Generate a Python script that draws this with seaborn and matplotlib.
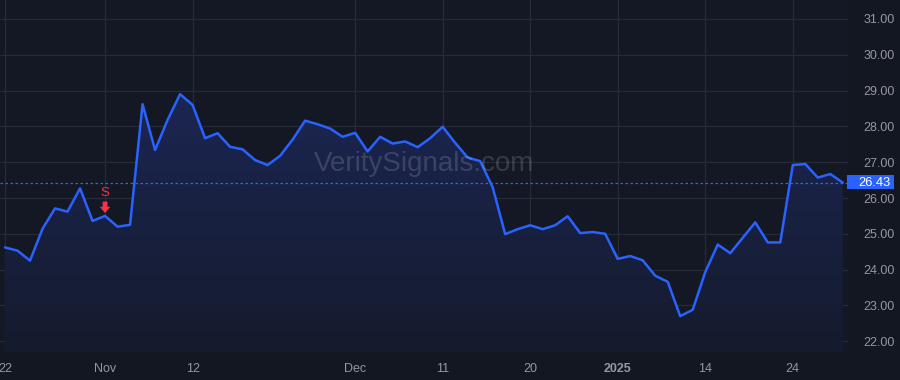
import numpy as np
import pandas as pd
import matplotlib
matplotlib.use("Agg")
import matplotlib.pyplot as plt
import seaborn as sns
from matplotlib.patches import Polygon, Rectangle
from matplotlib.colors import LinearSegmentedColormap

# ---- data ----
values = [24.62, 24.53, 24.25, 25.14, 25.71, 25.62, 26.27, 25.36, 25.50, 25.20,
          25.25, 28.62, 27.34, 28.18, 28.90, 28.60, 27.67, 27.81, 27.43, 27.36,
          27.06, 26.92, 27.18, 27.63, 28.16, 28.06, 27.94, 27.71, 27.82, 27.30,
          27.71, 27.52, 27.58, 27.42, 27.67, 27.99, 27.54, 27.13, 27.03, 26.30,
          24.99, 25.13, 25.24, 25.13, 25.24, 25.49, 25.02, 25.05, 25.00, 24.30,
          24.38, 24.26, 23.83, 23.66, 22.70, 22.88, 23.93, 24.70, 24.46, 24.89,
          25.32, 24.76, 24.76, 26.92, 26.95, 26.57, 26.67, 26.43]
tick_index = [0, 8, 15, 28, 35, 42, 49, 56, 63]
tick_labels = ["22", "Nov", "12", "Dec", "11", "20", "2025", "14", "24"]
y_ticks = [22, 23, 24, 25, 26, 27, 28, 29, 30, 31]
last_price = 26.43
signal_index = 8
signal_label = "S"
watermark = "VeritySignals.com"

df = pd.DataFrame({"idx": np.arange(len(values)), "price": values})

BG = "#131722"
PANEL = "#141824"
GRID = "#262b38"
LINE = "#2962ff"
TXT = "#9598a1"
RED = "#f23645"

sns.set_theme(style="dark")
plt.rcParams["font.family"] = ["Liberation Sans", "DejaVu Sans"]

W, H = 900, 380
fig = plt.figure(figsize=(9, 3.8), dpi=100, facecolor=BG)
ax = fig.add_axes([0.0, 0.0737, 0.942, 0.9263])
ax.set_facecolor(PANEL)

ymin, ymax = 21.70, 31.53
xmin, xmax = -0.4, 67.4
ax.set_xlim(xmin, xmax)
ax.set_ylim(ymin, ymax)

# grid
for t in y_ticks:
    ax.axhline(t, color=GRID, lw=0.9, zorder=0)
for t in tick_index:
    ax.axvline(t, color=GRID, lw=0.9, zorder=0)

# gradient fill under line
x = df["idx"].to_numpy()
y = df["price"].to_numpy()
verts = np.vstack([np.column_stack([x, y]), [[x[-1], ymin], [x[0], ymin]]])
poly = Polygon(verts, closed=True, facecolor="none", edgecolor="none")
ax.add_patch(poly)
grad = np.linspace(0, 1, 256).reshape(-1, 1)
cmap = LinearSegmentedColormap.from_list("g", ["#151b2d", "#1b2652"])
im = ax.imshow(grad, extent=[x[0], x[-1], ymin, max(values)], origin="lower",
               aspect="auto", cmap=cmap, zorder=1)
im.set_clip_path(poly)

sns.lineplot(data=df, x="idx", y="price", ax=ax, color=LINE, lw=1.8, zorder=3)

# last price dotted line
ax.axhline(last_price, color=LINE, lw=0.9, ls=(0, (2, 2)), zorder=2)

# watermark
ax.text(0.5, 0.535, watermark, transform=ax.transAxes, ha="center", va="center",
        fontsize=20, color="#ffffff", alpha=0.15, zorder=4)

# sell signal
sv = values[signal_index]
ax.annotate("", xy=(signal_index, sv + 0.08), xytext=(signal_index, sv + 0.40),
            arrowprops=dict(arrowstyle="simple,head_width=0.75,head_length=0.45,tail_width=0.35",
                            color=RED, lw=0, shrinkA=0, shrinkB=0),
            fontsize=10, zorder=5)
ax.text(signal_index, sv + 0.64, signal_label, color=RED,
        ha="center", va="center", fontsize=9.5, zorder=5)

# axes ticks
ax.yaxis.tick_right()
ax.set_yticks(y_ticks)
ax.set_yticklabels([f"{t:.2f}" for t in y_ticks])
ax.set_xticks(tick_index)
ax.set_xticklabels(tick_labels)
ax.tick_params(axis="y", length=0, pad=11, colors=TXT, labelsize=9)
ax.tick_params(axis="x", length=0, pad=8, colors=TXT, labelsize=9)
for lab in ax.get_xticklabels():
    if lab.get_text() == "2025":
        lab.set_fontweight("bold")
ax.set_xlabel("")
ax.set_ylabel("")
for s in ax.spines.values():
    s.set_visible(False)
ax.grid(False)

# price label box (blue tag on the right axis)
tag = Rectangle((847 / W, 1 - 189 / H), 47 / W, 14 / H,
                transform=fig.transFigure, fc=LINE, ec="none", zorder=6,
                clip_on=False)
ax.add_artist(tag)
ax.text(1.0 + 11 / 848, last_price, f"{last_price:.2f}", transform=ax.get_yaxis_transform(),
        ha="left", va="center", color="white", fontsize=9.3,
        zorder=7, clip_on=False)

fig.savefig("out.png", dpi=100, facecolor=BG)
